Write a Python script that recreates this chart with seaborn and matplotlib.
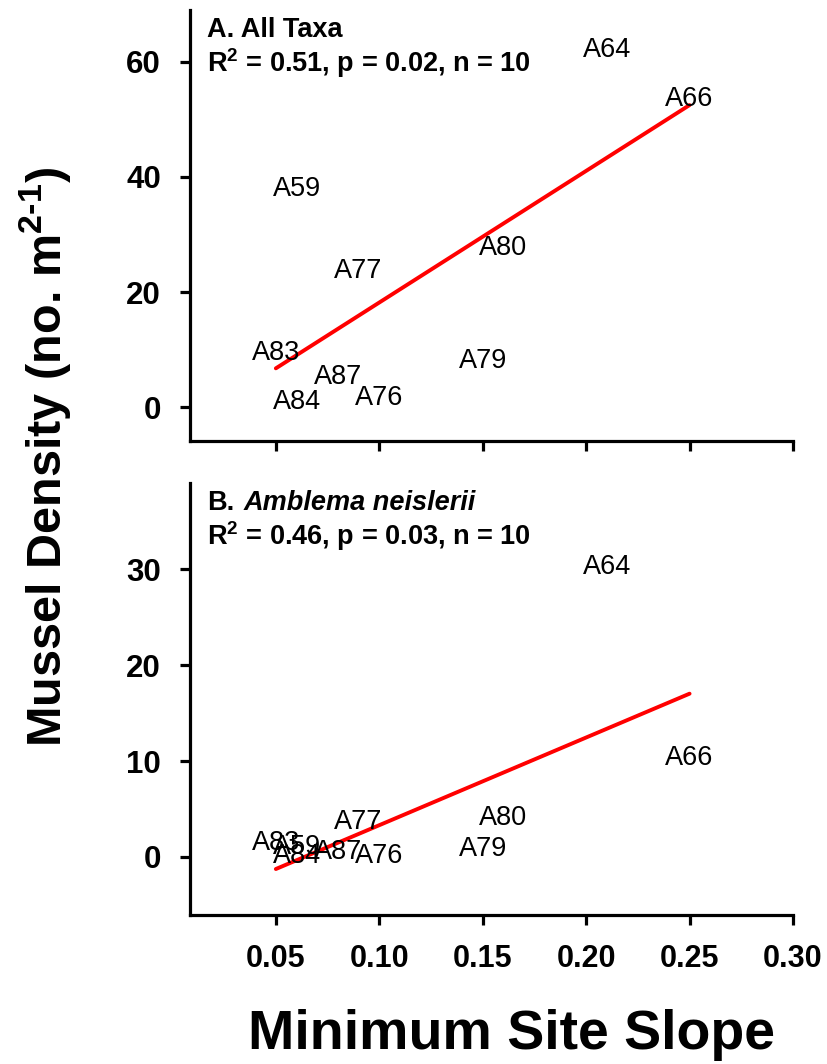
import matplotlib
matplotlib.use('Agg')
import matplotlib.pyplot as plt
from matplotlib import font_manager
import numpy as np
import pandas as pd
import seaborn as sns

# sites and values
sites = ['A64', 'A66', 'A59', 'A80', 'A77', 'A83', 'A79', 'A87', 'A76', 'A84']
min_slope = [0.21, 0.25, 0.06, 0.16, 0.09, 0.05, 0.15, 0.08, 0.10, 0.06]
dens_all = [62.0, 53.5, 37.9, 27.6, 23.7, 9.4, 8.1, 5.2, 1.7, 0.9]
dens_amblema = [30.2, 10.3, 1.0, 4.1, 3.7, 1.5, 0.8, 0.55, 0.07, 0.14]

stats_all = r'R$^{\mathbf{2}}$ = 0.51, p = 0.02, n = 10'
stats_amb = r'R$^{\mathbf{2}}$ = 0.46, p = 0.03, n = 10'
x_ticks = [0.05, 0.10, 0.15, 0.20, 0.25, 0.30]

sns.set_style('ticks')
plt.rcParams['font.family'] = ['Liberation Sans', 'DejaVu Sans']
plt.rcParams['text.color'] = 'black'
plt.rcParams['xtick.color'] = 'black'
plt.rcParams['ytick.color'] = 'black'
plt.rcParams['axes.labelcolor'] = 'black'
plt.rcParams['mathtext.fontset'] = 'custom'
plt.rcParams['mathtext.rm'] = 'Liberation Sans:bold'
plt.rcParams['mathtext.bf'] = 'Liberation Sans:bold'
plt.rcParams['mathtext.it'] = 'Liberation Sans:italic'

# condensed face for the y label if one is installed
installed = {f.name for f in font_manager.fontManager.ttflist}
narrow = None
for name in ['Liberation Sans Narrow', 'DejaVu Sans Condensed']:
    if name in installed:
        narrow = name
        break

df = pd.DataFrame({'site': sites, 'slope': min_slope,
                   'all': dens_all, 'amblema': dens_amblema})

fig = plt.figure(figsize=(8.28, 10.64), dpi=100)
W, H = 828, 1064


def px_axes(left, top, right, bottom):
    return fig.add_axes([left / W, 1 - bottom / H, (right - left) / W, (bottom - top) / H])


ax1 = px_axes(190, 10, 793, 441)
ax2 = px_axes(190, 483, 793, 915)


def panel(ax, col, ylim, yticks, stats):
    sns.regplot(data=df, x='slope', y=col, ax=ax, scatter=False, ci=None,
                color='red', line_kws={'lw': 2.8, 'solid_capstyle': 'round'})
    for s, xv, yv in zip(df['site'], df['slope'], df[col]):
        ax.text(xv, yv, s, ha='center', va='center', fontsize=19.5, color='black')
    ax.set_xlim(0.0085, 0.30)
    ax.set_ylim(*ylim)
    ax.set_xticks(x_ticks)
    ax.set_yticks(yticks)
    ax.set_xticklabels(['%.2f' % v for v in x_ticks], fontsize=22, fontweight='bold')
    ax.set_yticklabels([str(v) for v in yticks], fontsize=22.5, fontweight='bold')
    ax.set_xlabel('')
    ax.set_ylabel('')
    for side in ['top', 'right']:
        ax.spines[side].set_visible(False)
    for side in ['left', 'bottom']:
        ax.spines[side].set_linewidth(2.3)
        ax.spines[side].set_color('black')
    ax.tick_params(axis='both', width=2.3, length=7, color='black', pad=14)
    # stats line, baseline ~62 px below the top of the axis
    top_px = ax.get_position().height * H
    ax.text(17 / 603, 1 - 62 / top_px, stats, transform=ax.transAxes,
            fontsize=19.5, fontweight='bold', va='baseline')


panel(ax1, 'all', (-5.85, 69), [0, 20, 40, 60], stats_all)
panel(ax2, 'amblema', (-6.05, 39), [0, 10, 20, 30], stats_amb)

ax1.tick_params(axis='x', labelbottom=False)

ax1.text(17 / 603, 1 - 27 / 431, 'A. All Taxa', transform=ax1.transAxes,
         fontsize=19.5, fontweight='bold', va='baseline')
ax2.text(17 / 603, 1 - 27 / 432, 'B.', transform=ax2.transAxes,
         fontsize=19.5, fontweight='bold', va='baseline')
ax2.text(54 / 603, 1 - 27 / 432, 'Amblema neislerii', transform=ax2.transAxes,
         fontsize=19.5, fontweight='bold', style='italic', va='baseline')

ylab = r'Mussel Density (no. m$^{2\text{-}1}$)'
if narrow:
    fig.text(45 / W, 1 - 457 / H, ylab, rotation=90, ha='center', va='center',
             fontsize=41, fontweight='bold', family=[narrow, 'Liberation Sans'])
else:
    fig.text(45 / W, 1 - 457 / H, ylab, rotation=90, ha='center', va='center',
             fontsize=35, fontweight='bold')
fig.text(512 / W, 1 - 1035 / H, 'Minimum Site Slope', ha='center', va='center',
         fontsize=40, fontweight='bold')

fig.savefig('out.png', dpi=100)
